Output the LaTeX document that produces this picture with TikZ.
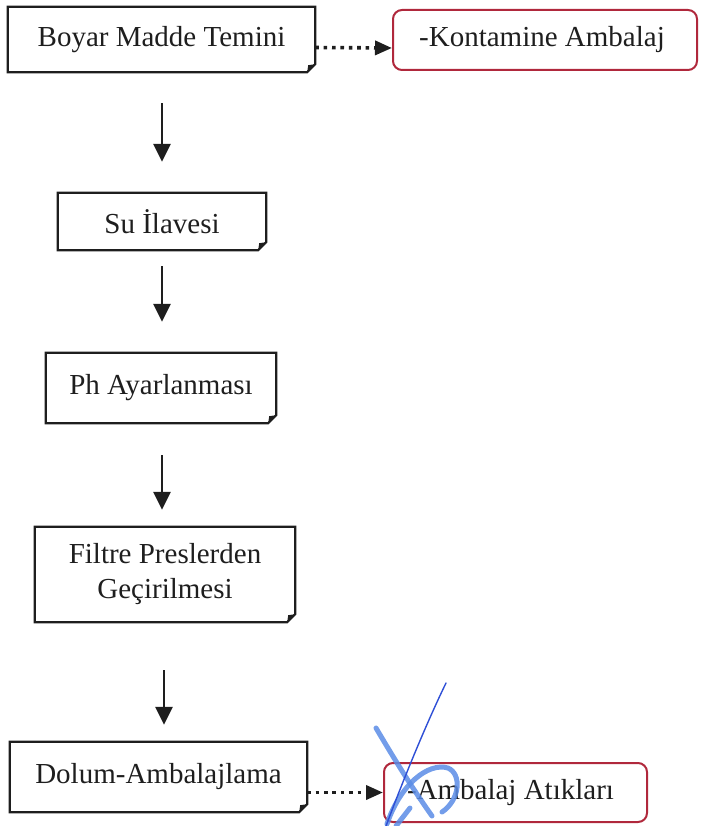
\documentclass[tikz,border=0pt]{standalone}
\usepackage{fontspec}
\setmainfont{Liberation Serif}
\usetikzlibrary{arrows.meta}

\definecolor{inkline}{HTML}{1E1E1E}
\definecolor{wastered}{HTML}{B0283C}
\definecolor{penblue}{HTML}{2E4FD6}
\definecolor{penlight}{HTML}{5A8CE6}

\tikzset{
  x=1pt, y=-1pt,
  proc/.style={rectangle, draw=none, inner sep=0pt, align=center,
    font=\fontsize{29}{35}\selectfont, text=inkline},
  procline/.style={draw=inkline, line width=2.2pt, line join=miter},
  waste/.style={rectangle, rounded corners=9pt, draw=wastered, line width=2pt,
    inner sep=0pt, font=\fontsize{29}{35}\selectfont, text=inkline},
  flow/.style={draw=inkline, line width=2.6pt,
    -{Triangle[width=17pt,length=18pt]}},
  sideflow/.style={draw=inkline, line width=3.6pt, dash pattern=on 3.6pt off 4.8pt,
    -{Triangle[width=14pt,length=17pt]}},
  pen/.style={draw=penblue, line width=1.4pt, line cap=round},
  penwide/.style={draw=penlight, line width=5pt, line cap=round, opacity=0.85},
}

% process box outline with a folded bottom-right corner
\newcommand\foldbox[1]{%
  \draw[procline] ([yshift=8pt]#1.south east) -- (#1.north east)
    -- (#1.north west) -- (#1.south west) -- ([xshift=-8pt]#1.south east) -- cycle;
  \fill[inkline] ([xshift=-8pt]#1.south east) -- ([yshift=8pt]#1.south east)
    -- ([shift={(-7pt,7pt)}]#1.south east) -- cycle;
}

\begin{document}
\begin{tikzpicture}
\useasboundingbox (0,0) rectangle (705,826);

% process steps
\node[proc, minimum width=307pt, minimum height=65pt] (b1) at (161.5,39.5) {Boyar Madde Temini};
\node[proc, minimum width=208pt, minimum height=57pt] (b2) at (162,221.5) {Su İlavesi};
\node[proc, minimum width=230pt, minimum height=70pt] (b3) at (161,388) {Ph Ayarlanması};
\node[proc, minimum width=260pt, minimum height=95pt] (b4) at (165,574.5) {Filtre Preslerden\\Geçirilmesi};
\node[proc, minimum width=297pt, minimum height=70pt] (b5) at (158.5,777) {Dolum-Ambalajlama};

\foldbox{b1}
\foldbox{b2}
\foldbox{b3}
\foldbox{b4}
\foldbox{b5}

% waste outputs
\node[waste, minimum width=304pt, minimum height=60pt] (r1) at (545,40) {\hspace*{-6pt}-Kontamine Ambalaj};
\node[waste, minimum width=263pt, minimum height=59pt] (r2) at (515.5,792.5) {\hspace*{-10pt}-Ambalaj Atıkları};

% main flow
\draw[flow, shorten <=31pt, shorten >=31pt] (b1.south -| b2.north) -- (b2.north);
\draw[flow, shorten <=16pt, shorten >=31pt] (b2.south) -- (b2.south |- b3.north);
\draw[flow, shorten <=32pt, shorten >=17pt] (b3.south -| b2.south) -- (b2.south |- b4.north);
\draw[flow, shorten <=48pt, shorten >=17pt] (b4.south -| 164,0) -- (b5.north -| 164,0);

% side outputs
\draw[sideflow] ([yshift=-8pt]b1.east) -- ([yshift=-8pt]r1.west);
\draw[sideflow] (b5.east |- r2.west) -- (r2.west);

% signature stroke
\draw[penwide] (376,728) .. controls (392,755) and (410,785) .. (432,816);
\draw[penwide] (387,824) .. controls (400,785) and (428,762) .. (448,768)
  .. controls (462,774) and (460,800) .. (442,812);
\draw[penwide] (396,826) -- (410,808);
\draw[pen] (446,683) .. controls (428,720) and (405,775) .. (386,826);
\end{tikzpicture}
\end{document}
